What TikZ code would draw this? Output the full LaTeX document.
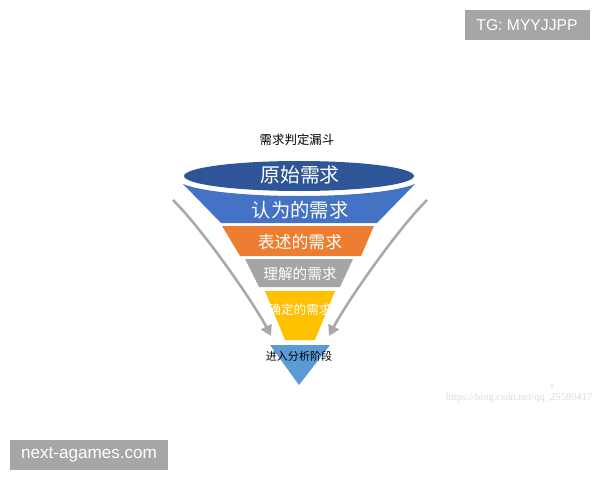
\documentclass[tikz,border=0pt]{standalone}
\usepackage{fontspec}
\setmainfont{Liberation Sans}
\newfontfamily\cjk{Noto Sans CJK SC}
\newfontfamily\serifw{Liberation Serif}
\usetikzlibrary{arrows.meta}
\definecolor{navyband}{HTML}{2E5597}
\definecolor{blueband}{HTML}{4472C4}
\definecolor{orangeband}{HTML}{ED7D31}
\definecolor{grayband}{HTML}{A5A5A5}
\definecolor{yellowband}{HTML}{FFC000}
\definecolor{tipblue}{HTML}{5B9BD5}
\definecolor{flowgray}{HTML}{A9A9A9}
\definecolor{markgray}{HTML}{A6A6A6}
\begin{document}
\begin{tikzpicture}
[x=0.03cm, y=-0.03cm,
 every node/.style = {inner sep=0pt, align=center},
 bandtext/.style = {text=white, font=\cjk},
 flow/.style = {draw=flowgray, line width=2.2pt,
	-{Triangle[width=10pt, length=9pt]}},
 markbox/.style = {fill=markgray, text=white,
	minimum height=0.9cm}]
 \useasboundingbox (0,0) rectangle (600,480);

  % funnel layers
  \fill[navyband] (299,176) ellipse [x radius=115, y radius=15];
  \fill[blueband] (183,184) .. controls (222,200) and (376,200) .. (415,184)
  	-- (377,223) -- (221,223) -- cycle;
  \fill[orangeband] (222,226) -- (374,226) -- (361,256) -- (240,256) -- cycle;
  \fill[grayband] (245,259) -- (353,259) -- (340,287) -- (259,287) -- cycle;
  \fill[yellowband] (265,291) -- (335,291) -- (315,340) -- (285,340) -- cycle;
  \fill[tipblue] (270,345) -- (330,345) -- (299,385) -- cycle;

  \node (title) at (297,140) {\cjk\fontsize{10.6}{11}\selectfont 需求判定漏斗};
  \node[bandtext] (orig) at (300,175) {\fontsize{17}{17}\selectfont 原始需求};
  \node[bandtext] (assumed) at (300,210) {\fontsize{16.5}{17}\selectfont 认为的需求};
  \node[bandtext] (stated) at (300,242) {\fontsize{14.4}{15}\selectfont 表述的需求};
  \node[bandtext] (understood) at (300,274) {\fontsize{12.5}{13}\selectfont 理解的需求};
  \node[bandtext] (confirmed) at (300,310) {\fontsize{10.8}{11}\selectfont 确定的需求};
  \node (analysis) at (299,356) {\cjk\fontsize{9.4}{10}\selectfont 进入分析阶段};

  % side arrows
  \coordinate (lstart) at (173,200);
  \coordinate (lend) at (271,336);
  \coordinate (rstart) at (427,200);
  \coordinate (rend) at (329,336);
  \draw[flow] (lstart) .. controls (205,232) and (255,305) .. (lend);
  \draw[flow] (rstart) .. controls (395,232) and (345,305) .. (rend);

  % watermarks
  \node[markbox, minimum width=3.75cm] (tg) at (527,25)
  	{\fontsize{13.4}{14}\selectfont TG: MYYJJPP};
  \node[markbox, minimum width=4.74cm] (site) at (89,455)
  	{\fontsize{14.6}{15}\selectfont next-agames.com};
  \node[text=black!14] (csdn) at (519,398)
  	{\serifw\fontsize{9}{9}\selectfont https://blog.csdn.net/qq\_25580417};
  \node[text=black!22] (pageno) at (552,387) {\serifw\fontsize{5}{5}\selectfont 1};
\end{tikzpicture}
\end{document}
